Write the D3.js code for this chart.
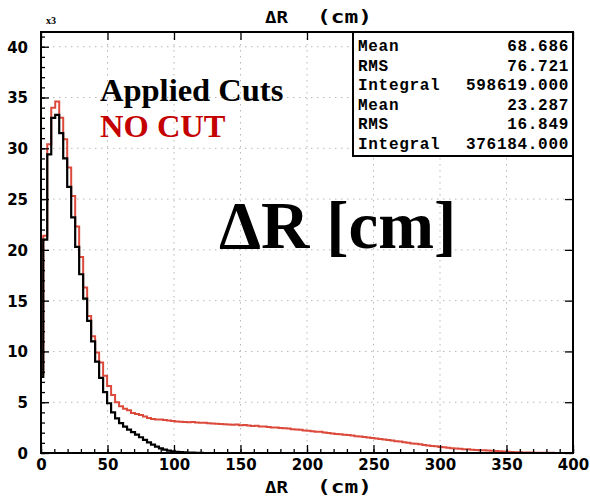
<!DOCTYPE html>
<html><head><meta charset="utf-8">
<script src="https://cdn.jsdelivr.net/npm/d3@7"></script>
<style>body{margin:0;background:#fff}svg{display:block}</style>
</head><body><svg id="c" width="590" height="498"></svg>
<script>
// ---- data (values in units of 10^3 entries) ----
const binWidth = 3;          // cm
const firstEdge = -1.3;      // cm, lower edge of first bin
const appliedCuts = [7.5,21.0,29.4,33.0,33.3,31.5,29.0,26.2,23.2,20.3,17.6,15.2,13.0,11.0,9.0,7.4,6.0,4.9,4.0,3.4,2.95,2.6,2.3,2.05,1.8,1.55,1.3,1.05,0.82,0.62,0.45,0.33,0.24,0.17,0.12,0.08,0.06,0.04,0.03,0.02,0.01];
const noCut = [7.8,21.4,30.4,34.0,34.6,33.0,30.9,28.1,25.3,22.3,19.3,16.3,13.5,11.5,9.9,8.9,7.6,6.6,5.7,5.0,4.6,4.35,4.2,3.95,3.85,3.75,3.6,3.45,3.35,3.3,3.3,3.25,3.2,3.15,
 3.1,3.08,3.05,3.02,3.04,3.0,2.97,2.98,2.94,2.9,
 2.88,2.85,2.82,2.8,2.78,2.8,2.72,2.76,2.7,2.65,
 2.68,2.62,2.6,2.57,2.52,2.5,2.46,2.44,2.4,2.35,
 2.32,2.28,2.22,2.2,2.15,2.1,2.08,2.02,1.98,1.93,
 1.88,1.85,1.8,1.76,1.72,1.66,1.62,1.57,1.52,1.47,
 1.42,1.38,1.33,1.27,1.22,1.16,1.12,1.05,1.0,0.94,
 0.9,0.85,0.8,0.75,0.7,0.66,0.6,0.56,0.52,0.48,
 0.45,0.42,0.38,0.36,0.32,0.3,0.28,0.26,0.24,0.22,
 0.2,0.18,0.15,0.12,0.1,0.08,0.07,0.05,0.05,0.04,
 0.03,0.03,0.02,0.02,0.02,0.01,0.01,0.01,0.01,0.0];
const xTicks = [0,50,100,150,200,250,300,350,400];
const yTicks = [0,5,10,15,20,25,30,35,40];
const statsLabels = ["Mean","RMS","Integral","Mean","RMS","Integral"];
const statsValues = ["68.686","76.721","598619.000","23.287","16.849","376184.000"];
const legendLabels = ["Applied Cuts","NO CUT"];
const titleParts = ["ΔR","(cm)"];
const bigLabel = "ΔR [cm]";
const multiplier = "x3";

// ---- layout ----
const svg = d3.select("#c");
const L=41, R=573, T=32, B=453;
const x = d3.scaleLinear().domain([0,400]).range([L,R]);
const y = d3.scaleLinear().domain([0,41.45]).range([B,T]);
const RED = "#dc4a3c", DARKRED = "#c40000";

// grid
const g = svg.append("g");
g.selectAll(".gx").data(xTicks.slice(1,-1)).enter().append("line")
  .attr("x1",d=>x(d)).attr("x2",d=>x(d)).attr("y1",T).attr("y2",B)
  .attr("stroke","#b8b8b8").attr("stroke-dasharray","1.5,4.5");
g.selectAll(".gy").data(yTicks.slice(1)).enter().append("line")
  .attr("y1",d=>y(d)).attr("y2",d=>y(d)).attr("x1",L).attr("x2",R)
  .attr("stroke","#b8b8b8").attr("stroke-dasharray","1.5,4.5");

// histograms
svg.append("clipPath").attr("id","clip").append("rect")
  .attr("x",L).attr("y",T).attr("width",R-L).attr("height",B-T);
function pts(vals){
  const p=[[firstEdge,0]];
  vals.forEach((v,i)=>p.push([firstEdge+i*binWidth,v]));
  p.push([firstEdge+vals.length*binWidth,vals[vals.length-1]]);
  p.push([firstEdge+vals.length*binWidth,0]);
  return p;
}
const line = d3.line().x(d=>x(d[0])).y(d=>y(d[1])).curve(d3.curveStepAfter);
const hg = svg.append("g").attr("clip-path","url(#clip)");
hg.append("path").attr("d",line(pts(noCut))).attr("fill","none").attr("stroke",RED).attr("stroke-width",2);
hg.append("path").attr("d",line(pts(appliedCuts))).attr("fill","none").attr("stroke","#000").attr("stroke-width",2.2);

// axes
const fontTick = "bold 15px 'DejaVu Sans'";
const ax = svg.append("g").attr("transform",`translate(0,${B})`)
  .call(d3.axisBottom(x).tickValues(xTicks).tickSizeInner(-8).tickSizeOuter(0).tickPadding(14));
const axm = svg.append("g").attr("transform",`translate(0,${B})`)
  .call(d3.axisBottom(x).tickValues(d3.range(0,401,10)).tickSizeInner(-4).tickSizeOuter(0).tickFormat(""));
const ay = svg.append("g").attr("transform",`translate(${L},0)`)
  .call(d3.axisLeft(y).tickValues(yTicks).tickSizeInner(-8).tickSizeOuter(0).tickPadding(13));
const aym = svg.append("g").attr("transform",`translate(${L},0)`)
  .call(d3.axisLeft(y).tickValues(d3.range(0,42,1)).tickSizeInner(-4).tickSizeOuter(0).tickFormat(""));
const axt = svg.append("g").attr("transform",`translate(0,${T})`)
  .call(d3.axisTop(x).tickValues(xTicks).tickSizeInner(-8).tickSizeOuter(0).tickFormat(""));
const ayr = svg.append("g").attr("transform",`translate(${R},0)`)
  .call(d3.axisRight(y).tickValues(yTicks).tickSizeInner(-8).tickSizeOuter(0).tickFormat(""));
[ax,axm,ay,aym,axt,ayr].forEach(a=>{
  a.select(".domain").remove();
  a.selectAll(".tick line").attr("stroke","#000").attr("stroke-width",1.3);
  a.selectAll("text").style("font",fontTick).attr("fill","#000");
});
ax.selectAll("text").attr("dy","0.2em");
ay.selectAll("text").attr("dy","0.36em");

// frame
svg.append("rect").attr("x",L).attr("y",T).attr("width",R-L).attr("height",B-T)
  .attr("fill","none").attr("stroke","#000").attr("stroke-width",2);

// x3 multiplier
svg.append("text").attr("x",46).attr("y",24).text(multiplier)
  .style("font","bold 10px 'Liberation Serif'");

// title & axis title
function titleAt(yb){
  svg.append("text").attr("x",265).attr("y",yb).attr("textLength",23).attr("lengthAdjust","spacingAndGlyphs")
    .style("font","bold 16px 'DejaVu Sans Mono'").text(titleParts[0]);
  svg.append("text").attr("x",317).attr("y",yb).attr("textLength",55).attr("lengthAdjust","spacingAndGlyphs")
    .style("font","bold 17px 'DejaVu Sans Mono'").text(titleParts[1]);
}
titleAt(23);
titleAt(493);

// legend text
svg.append("text").attr("x",100).attr("y",101).text(legendLabels[0])
  .style("font","bold 32.5px 'Liberation Serif'").attr("fill","#000");
svg.append("text").attr("x",100).attr("y",137).text(legendLabels[1])
  .style("font","bold 32.5px 'Liberation Serif'").attr("fill",DARKRED);

// big label
svg.append("text").attr("x",219).attr("y",248).text(bigLabel)
  .style("font","bold 67px 'Liberation Serif'").attr("fill","#000");

// stats box
const sb = svg.append("g");
sb.append("rect").attr("x",353).attr("y",32).attr("width",220).attr("height",124)
  .attr("fill","#fff").attr("stroke","#000").attr("stroke-width",2);
statsLabels.forEach((l,i)=>{
  sb.append("text").attr("x",358).attr("y",51+i*19.5).text(l)
    .style("font","bold 16px 'Liberation Mono'").style("letter-spacing","0.7px");
  sb.append("text").attr("x",569).attr("y",51+i*19.5).attr("text-anchor","end").text(statsValues[i])
    .style("font","bold 16px 'Liberation Mono'").style("letter-spacing","0.7px");
});
</script></body></html>
